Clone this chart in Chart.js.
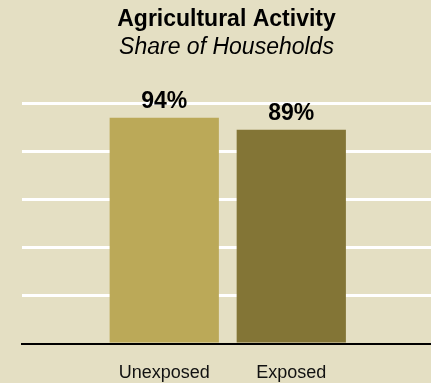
<!DOCTYPE html>
<html>
<head>
<meta charset="utf-8">
<script src="https://cdn.jsdelivr.net/npm/chart.js@4"></script>
<style>
  body { margin: 0; background: #E4DFC3; }
  #wrap { width: 431px; height: 383px; }
</style>
</head>
<body>
<div id="wrap"><canvas id="myChart" width="431" height="383"></canvas></div>
<script>
// data
var categories = ['Unexposed', 'Exposed'];
var shares = [94, 89];
var barColors = ['#BBA958', '#837536'];
var yTicks = [0, 20, 40, 60, 80, 100];

var font = "'Liberation Sans', Arial, sans-serif";

// draw the value above each bar
var valueLabels = {
  id: 'valueLabels',
  afterDatasetsDraw: function(chart) {
    var ctx = chart.ctx;
    var meta = chart.getDatasetMeta(0);
    ctx.save();
    ctx.font = 'bold 23px ' + font;
    ctx.fillStyle = '#000';
    ctx.textAlign = 'center';
    ctx.textBaseline = 'alphabetic';
    meta.data.forEach(function(bar, i) {
      ctx.fillText(shares[i] + '%', bar.x, bar.y - 10);
    });
    ctx.restore();
  }
};

var bgFill = {
  id: 'bgFill',
  beforeDraw: function(chart) {
    var ctx = chart.ctx;
    ctx.save();
    ctx.fillStyle = '#E4DFC3';
    ctx.fillRect(0, 0, chart.width, chart.height);
    ctx.restore();
  }
};

var ctx = document.getElementById('myChart').getContext('2d');
var myChart = new Chart(ctx, {
  type: 'bar',
  data: {
    datasets: [{
      data: shares.map(function(v, i) { return { x: i, y: v }; }),
      backgroundColor: barColors,
      borderWidth: 0,
      barPercentage: 0.86,
      categoryPercentage: 1
    }]
  },
  plugins: [bgFill, valueLabels],
  options: {
    responsive: false,
    animation: false,
    layout: { padding: 0 },
    plugins: {
      legend: { display: false },
      tooltip: { enabled: false },
      title: {
        display: true,
        fullSize: false,
        text: 'Agricultural Activity',
        color: '#000',
        font: { family: font, size: 23, weight: 'bold' },
        padding: { top: 6, bottom: 0 }
      },
      subtitle: {
        display: true,
        fullSize: false,
        text: 'Share of Households',
        color: '#000',
        font: { family: font, size: 23, style: 'italic', weight: 'normal' },
        padding: { top: 0, bottom: 42 }
      }
    },
    scales: {
      x: {
        type: 'linear',
        offset: false,
        bounds: 'data',
        min: -1.12,
        max: 2.1,
        afterBuildTicks: function(scale) {
          scale.ticks = categories.map(function(c, i) { return { value: i }; });
        },
        afterFit: function(scale) { scale.height = 39; },
        grid: { display: false, drawTicks: false, offset: false },
        border: { display: true, color: '#000', width: 2 },
        ticks: {
          padding: 18,
          maxRotation: 0,
          autoSkip: false,
          color: '#111',
          font: { family: font, size: 18 },
          callback: function(value) { return categories[value]; }
        }
      },
      y: {
        min: 0,
        max: 100,
        afterBuildTicks: function(scale) {
          scale.ticks = yTicks.map(function(v) { return { value: v }; });
        },
        afterFit: function(scale) { scale.width = 22; },
        grid: {
          drawTicks: false,
          lineWidth: 3,
          color: function(c) { return c.tick && c.tick.value === 0 ? 'rgba(0,0,0,0)' : '#FFFFFF'; }
        },
        border: { display: false },
        ticks: { display: false }
      }
    }
  }
});
</script>
</body>
</html>
